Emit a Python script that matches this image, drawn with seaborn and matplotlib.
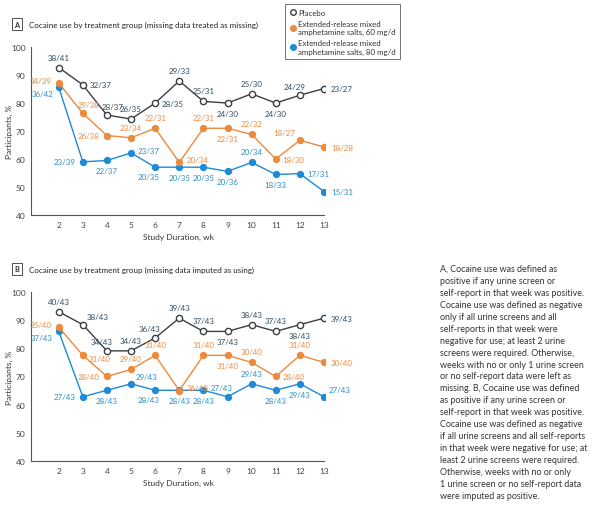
import matplotlib
matplotlib.use("Agg")
import matplotlib.pyplot as plt
import seaborn as sns
from matplotlib.lines import Line2D

weeks = [2, 3, 4, 5, 6, 7, 8, 9, 10, 11, 12, 13]

# Panel A: missing data treated as missing (% of participants)
a_placebo = [92.7, 86.5, 75.7, 74.3, 80.0, 87.9, 80.6, 80.0, 83.3, 80.0, 82.8, 85.2]
a_placebo_lbl = ["38/41", "32/37", "28/37", "26/35", "28/35", "29/33", "25/31", "24/30",
                 "25/30", "24/30", "24/29", "23/27"]
a_60 = [87.2, 76.3, 68.4, 67.6, 71.0, 58.8, 71.0, 71.0, 68.8, 60.0, 66.7, 64.3]
a_60_lbl = ["34/39", "29/38", "26/38", "23/34", "22/31", "20/34", "22/31", "22/31",
            "22/32", "18/30", "18/27", "18/28"]
a_80 = [85.7, 59.0, 59.5, 62.2, 57.1, 57.1, 57.1, 55.6, 58.8, 54.5, 54.8, 48.4]
a_80_lbl = ["36/42", "23/39", "22/37", "23/37", "20/35", "20/35", "20/35", "20/36",
            "20/34", "18/33", "17/31", "15/31"]

# Panel B: missing data imputed as using
b_placebo = [93.0, 88.4, 79.1, 79.1, 83.7, 90.7, 86.0, 86.0, 88.4, 86.0, 88.4, 90.7]
b_placebo_lbl = ["40/43", "38/43", "34/43", "34/43", "36/43", "39/43", "37/43", "37/43",
                 "38/43", "37/43", "38/43", "39/43"]
b_60 = [87.5, 77.5, 70.0, 72.5, 77.5, 65.0, 77.5, 77.5, 75.0, 70.0, 77.5, 75.0]
b_60_lbl = ["35/40", "31/40", "28/40", "29/40", "31/40", "26/40", "31/40", "31/40",
            "30/40", "28/40", "31/40", "30/40"]
b_80 = [86.0, 62.8, 65.1, 67.4, 65.1, 65.1, 65.1, 62.8, 67.4, 65.1, 67.4, 62.8]
b_80_lbl = ["37/43", "27/43", "28/43", "29/43", "28/43", "28/43", "28/43", "27/43",
            "29/43", "28/43", "29/43", "27/43"]

# label placement codes (see OFFS)
a_placebo_pos = ["a", "r", "a>", "a", "r", "a", "a", "b", "a", "b", "a<", "r"]
a_60_pos = ["lu", "a>", "l", "a", "a", "ru", "a", "b", "a", "r", "al", "r"]
a_80_pos = ["bl", "l", "b", "ru", "b<", "b", "b", "b", "a", "b", "r", "r"]
b_placebo_pos = ["a", "ar", "a<", "a", "a<", "a", "a", "b", "a", "a", "b", "r"]
b_60_pos = ["lu", "rd", "l", "a", "a", "ru", "a", "b", "a", "r", "a", "r"]
b_80_pos = ["bl", "l", "b", "ar", "b<", "b", "b", "a<", "a", "b", "b", "ar"]

C_PLA = "#3a3f45"
C_PLA_TXT = "#2e4a5f"
C_60 = "#ec8a3c"
C_80 = "#1f8ad6"
FONT = "Lato"

OFFS = {"a": (0, 5, "center", "bottom"), "b": (0, -5, "center", "top"),
        "a>": (4, 4, "center", "bottom"), "a<": (-4, 4, "center", "bottom"),
        "b<": (-5, -4, "center", "top"),
        "l": (-5, 0, "right", "center"), "r": (5, 0, "left", "center"),
        "lu": (-5, 2, "right", "center"), "ru": (5, 2, "left", "center"),
        "rd": (4, -2, "left", "center"),
        "al": (-3, 3, "right", "bottom"), "ar": (3, 3, "left", "bottom"),
        "bl": (-4, -2, "right", "top")}


def annotate(ax, vals, labels, pos, color):
    for x, y, t, p in zip(weeks, vals, labels, pos):
        dx, dy, ha, va = OFFS[p]
        ax.annotate(t, (x, y), xytext=(dx, dy), textcoords="offset points",
                    ha=ha, va=va, fontsize=5.7, color=color, family=FONT)


def draw_panel(ax, placebo, pl_lbl, pl_pos, s60, l60, p60, s80, l80, p80):
    sns.lineplot(x=weeks, y=s80, ax=ax, color=C_80, marker="o", markersize=4.5,
                 linewidth=1.0, markeredgecolor=C_80)
    sns.lineplot(x=weeks, y=s60, ax=ax, color=C_60, marker="o", markersize=4.5,
                 linewidth=1.0, markeredgecolor=C_60)
    sns.lineplot(x=weeks, y=placebo, ax=ax, color=C_PLA, marker="o", markersize=4.5,
                 linewidth=1.0, markerfacecolor="white", markeredgecolor=C_PLA,
                 markeredgewidth=1.0)
    annotate(ax, placebo, pl_lbl, pl_pos, C_PLA_TXT)
    annotate(ax, s60, l60, p60, C_60)
    annotate(ax, s80, l80, p80, "#2a8fc9")
    ax.set_xlim(0.86, 13.05)
    ax.set_ylim(40, 100)
    ax.set_xticks(weeks)
    ax.set_yticks(range(40, 101, 10))
    ax.spines["top"].set_visible(False)
    ax.spines["right"].set_visible(False)
    for s in ("left", "bottom"):
        ax.spines[s].set_color("#555555")
        ax.spines[s].set_linewidth(0.8)
    ax.spines["bottom"].set_bounds(0.86, 13)
    ax.tick_params(labelsize=6.0, colors="#444444", length=2.5, width=0.7, pad=1.5)
    for lab in ax.get_xticklabels() + ax.get_yticklabels():
        lab.set_family(FONT)
    ax.set_ylabel("Participants, %", fontsize=6.0, family=FONT, color="#333333")
    ax.yaxis.set_label_coords(-0.062, 0.5)
    ax.set_xlabel("Study Duration, wk", fontsize=6.0, family=FONT, color="#333333",
                  labelpad=4)
    ax.grid(False)


def panel_title(fig, y, letter, text):
    fig.text(0.0283, y, letter, fontsize=5.3, family=FONT, fontweight="bold",
             ha="center", va="center", color="#333333",
             bbox=dict(boxstyle="square,pad=0.3", fc="white", ec="#333333", lw=0.6))
    fig.text(0.049, y, text, fontsize=5.8, family=FONT, ha="left", va="center",
             color="#222222")


sns.set_theme(style="white")
fig = plt.figure(figsize=(6.0, 5.06), dpi=100)

ax_a = fig.add_axes([0.052, 0.573, 0.49, 0.332])
draw_panel(ax_a, a_placebo, a_placebo_lbl, a_placebo_pos, a_60, a_60_lbl, a_60_pos,
           a_80, a_80_lbl, a_80_pos)
ax_b = fig.add_axes([0.052, 0.087, 0.49, 0.334])
draw_panel(ax_b, b_placebo, b_placebo_lbl, b_placebo_pos, b_60, b_60_lbl, b_60_pos,
           b_80, b_80_lbl, b_80_pos)

panel_title(fig, 1 - 25 / 506, "A",
            "Cocaine use by treatment group (missing data treated as missing)")
panel_title(fig, 1 - 270 / 506, "B",
            "Cocaine use by treatment group (missing data imputed as using)")

handles = [
    Line2D([], [], marker="o", ls="none", markersize=4, markerfacecolor="white",
           markeredgecolor=C_PLA),
    Line2D([], [], marker="o", ls="none", markersize=4, color=C_60),
    Line2D([], [], marker="o", ls="none", markersize=4, color=C_80),
]
labels = ["Placebo", "Extended-release mixed\namphetamine salts, 60 mg/d",
          "Extended-release mixed\namphetamine salts, 80 mg/d"]
leg = fig.legend(handles, labels, loc="upper left", bbox_to_anchor=(0.469, 0.997),
                 frameon=True, fancybox=False, handletextpad=0.2,
                 handlelength=0.8, borderpad=0.6, labelspacing=0.5,
                 prop={"family": FONT, "size": 5.7})
leg.get_frame().set_edgecolor("#555555")
leg.get_frame().set_linewidth(0.7)
for t in leg.get_texts():
    t.set_color("#333333")

note = ("A, Cocaine use was defined as\n"
        "positive if any urine screen or\n"
        "self-report in that week was positive.\n"
        "Cocaine use was defined as negative\n"
        "only if all urine screens and all\n"
        "self-reports in that week were\n"
        "negative for use; at least 2 urine\n"
        "screens were required. Otherwise,\n"
        "weeks with no or only 1 urine screen\n"
        "or no self-report data were left as\n"
        "missing. B, Cocaine use was defined\n"
        "as positive if any urine screen or\n"
        "self-report in that week was positive.\n"
        "Cocaine use was defined as negative\n"
        "if all urine screens and all self-reports\n"
        "in that week were negative for use; at\n"
        "least 2 urine screens were required.\n"
        "Otherwise, weeks with no or only\n"
        "1 urine screen or no self-report data\n"
        "were imputed as positive.")
fig.text(0.733, 1 - 265 / 506, note, fontsize=6.4, family=FONT, ha="left", va="top",
         color="#333333", linespacing=1.42)

fig.savefig("out.png", dpi=100)
